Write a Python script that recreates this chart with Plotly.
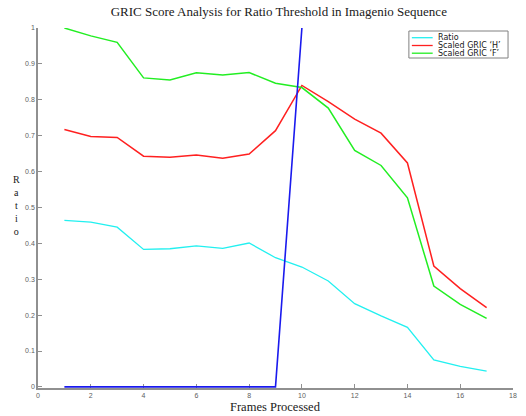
import plotly.graph_objects as go

frames = list(range(1, 18))
ratio = [0.464, 0.459, 0.445, 0.383, 0.385, 0.393, 0.386, 0.401, 0.360, 0.334,
         0.295, 0.232, 0.198, 0.166, 0.075, 0.057, 0.044]
gric_h = [0.717, 0.698, 0.695, 0.643, 0.640, 0.646, 0.637, 0.649, 0.714, 0.840,
          0.795, 0.746, 0.707, 0.624, 0.337, 0.274, 0.221]
gric_f = [1.000, 0.978, 0.960, 0.861, 0.855, 0.875, 0.869, 0.876, 0.846, 0.834,
          0.777, 0.659, 0.617, 0.527, 0.281, 0.230, 0.191]
thresh_x = [1, 2, 3, 4, 5, 6, 7, 8, 9, 10]
thresh_y = [0, 0, 0, 0, 0, 0, 0, 0, 0, 1]

x_ticks = list(range(0, 19, 2))
y_ticks = [0, 0.1, 0.2, 0.3, 0.4, 0.5, 0.6, 0.7, 0.8, 0.9, 1]
y_ticklabels = ["0", "0.1", "0.2", "0.3", "0.4", "0.5", "0.6", "0.7", "0.8", "0.9", "1"]

series_names = ["Ratio", "Scaled GRIC \u2018H\u2019", "Scaled GRIC \u2018F\u2019"]
series_colors = ["#22f0f0", "#ff2020", "#22ee22"]

W, H = 526, 416
ML, MR, MT, MB = 38, 9, 28, 28
PW, PH = W - ML - MR, H - MT - MB


def px_x(px):
    return (px - ML) / PW


def px_y(py):
    return (H - MB - py) / PH


fig = go.Figure()
for name, color, ys, w in zip(series_names, series_colors, [ratio, gric_h, gric_f], [1.3, 1.5, 1.5]):
    fig.add_trace(go.Scatter(x=frames, y=ys, mode="lines", name=name,
                             line=dict(color=color, width=w), showlegend=False))
fig.add_trace(go.Scatter(x=thresh_x, y=thresh_y, mode="lines", showlegend=False,
                         line=dict(color="#1a1aee", width=1.6)))

axis_common = dict(showgrid=False, zeroline=False, showline=True, linecolor="#909090",
                   linewidth=1.5, ticks="inside", ticklen=4, tickcolor="#909090",
                   layer="below traces",
                   tickfont=dict(family="Arial", size=7, color="#606060"))

fig.update_layout(
    width=W, height=H,
    margin=dict(l=ML, r=MR, t=MT, b=MB),
    paper_bgcolor="white", plot_bgcolor="white",
    title=dict(text="GRIC Score Analysis for Ratio Threshold in Imagenio Sequence",
               x=0.53, xanchor="center", y=0.972, yanchor="middle",
               font=dict(family="Liberation Serif", size=13, color="#202020")),
    xaxis=dict(range=[0, 18], tickvals=x_ticks, ticklabelstandoff=0, **axis_common),
    yaxis=dict(range=[-0.003, 1], tickvals=y_ticks, ticktext=y_ticklabels, **axis_common),
    showlegend=False,
)

# manual legend box
fig.add_shape(type="rect", xref="paper", yref="paper",
              x0=px_x(412), x1=px_x(512), y0=px_y(58), y1=px_y(31),
              line=dict(color="#808080", width=1), fillcolor="white", layer="above")
row_y = [37.7, 45.5, 53.2]
for name, color, ry in zip(series_names, series_colors, row_y):
    fig.add_shape(type="line", xref="paper", yref="paper",
                  x0=px_x(415), x1=px_x(436), y0=px_y(ry), y1=px_y(ry),
                  line=dict(color=color, width=1.3), layer="above")
    fig.add_annotation(text=name, xref="paper", yref="paper",
                       x=px_x(439), y=px_y(ry), xanchor="left", yanchor="middle",
                       showarrow=False,
                       font=dict(family="DejaVu Sans", size=8, color="#202020"))

fig.add_annotation(text="Frames Processed", xref="paper", yref="paper",
                   x=0.5, y=px_y(407), xanchor="center", yanchor="middle", showarrow=False,
                   font=dict(family="Liberation Serif", size=12.5, color="#202020"))
fig.add_annotation(text="R<br>a<br>t<br>i<br>o", xref="paper", yref="paper",
                   x=px_x(16), y=px_y(205), xanchor="center", yanchor="middle",
                   showarrow=False,
                   font=dict(family="Liberation Serif", size=10, color="#202020"))

fig.write_html("out.html")
